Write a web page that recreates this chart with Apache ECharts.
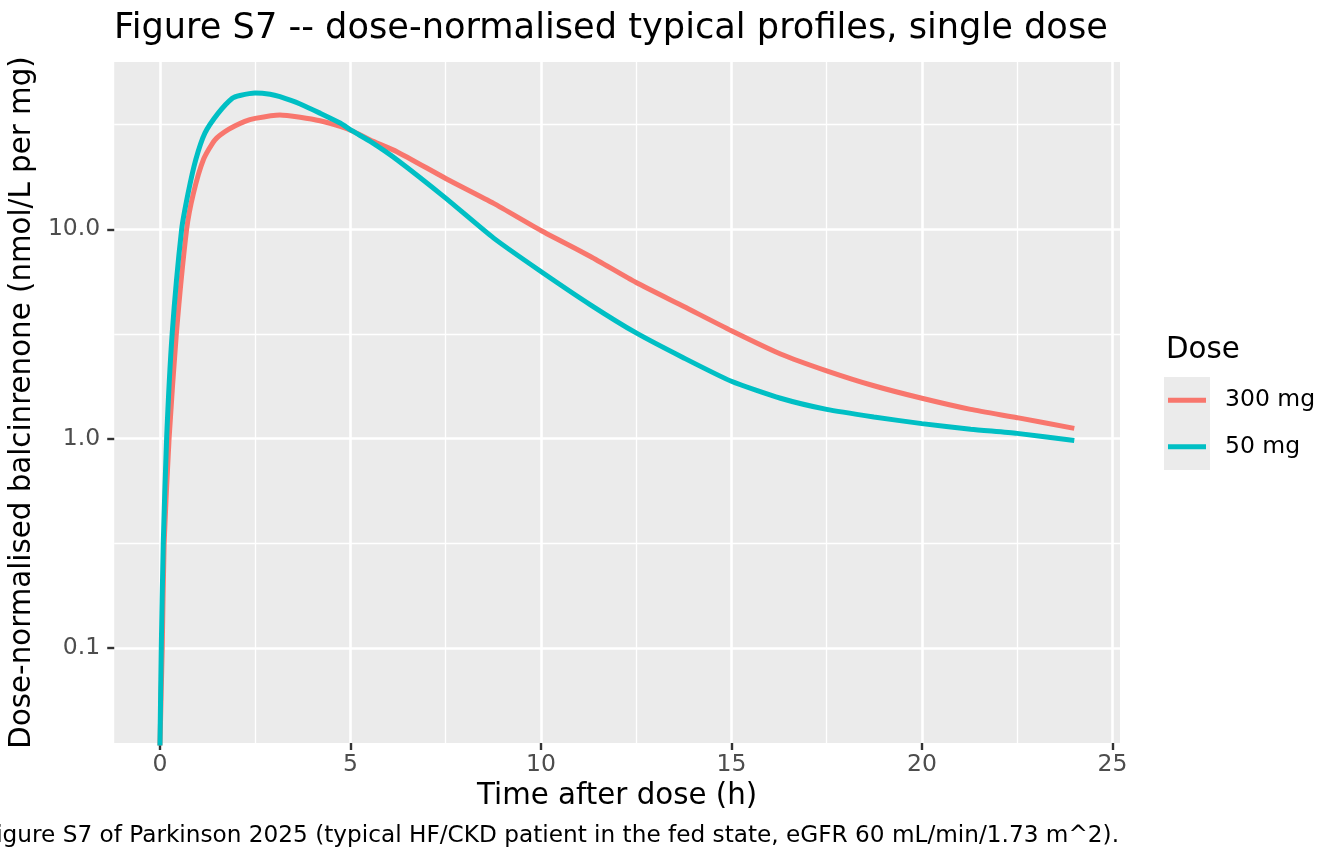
<!DOCTYPE html>
<html>
<head>
<meta charset="utf-8">
<script src="https://cdn.jsdelivr.net/npm/echarts@6/dist/echarts.min.js"></script>
<style>
  html, body { margin: 0; padding: 0; background: #fff; }
  #chart { width: 1344px; height: 864px; }
</style>
</head>
<body>
<div id="chart"></div>
<script>
// Values (time in h, conc in nmol/L per mg)
const time300 = [0, 0.06, 0.11, 0.24, 0.43, 0.70, 0.88, 1.14, 1.44, 1.8, 2.23, 2.5, 3.15, 3.68, 4.2, 4.73, 5.05, 5.52, 6.22, 7.5, 8.76, 10, 11.3, 12.5, 13.75, 15, 16.29, 17.5, 18.74, 20, 21.28, 22.5, 24];
const conc300 = [0.034, 0.1, 0.316, 1.0, 3.16, 10, 14.9, 21.5, 26.7, 30.0, 32.8, 33.9, 35.2, 34.3, 33.0, 31.0, 29.5, 26.7, 23.5, 17.5, 13.3, 9.87, 7.42, 5.57, 4.28, 3.28, 2.54, 2.11, 1.79, 1.56, 1.38, 1.26, 1.12];

const time50 = [0, 0.035, 0.087, 0.175, 0.32, 0.57, 0.74, 0.94, 1.18, 1.53, 1.9, 2.1, 2.5, 2.89, 3.15, 3.68, 4.2, 4.73, 5.05, 5.52, 6.22, 7.5, 8.76, 10, 11.3, 12.5, 13.75, 15, 16.29, 17.5, 18.74, 20, 21.28, 22.5, 24];
const conc50 = [0.034, 0.1, 0.316, 1.0, 3.16, 10, 14.9, 21.5, 28.8, 35.9, 42.3, 43.6, 44.8, 44.2, 43.0, 39.7, 35.9, 32.2, 29.5, 26.3, 21.5, 14.1, 9.08, 6.29, 4.36, 3.20, 2.43, 1.88, 1.56, 1.38, 1.27, 1.18, 1.11, 1.06, 0.98];

const seriesNames = ['300 mg', '50 mg'];
const seriesColors = ['#F8766D', '#00BFC4'];

const xTicks = [0, 5, 10, 15, 20, 25];
const yTicks = [0.1, 1, 10];
const yMinorTicks = [0.316, 3.16, 31.6];

const FONT = 'DejaVu Sans';
const Y_MIN = 0.03518, Y_MAX = 63.0;
// hidden helper axis: shifted by half a decade so its decades land on the minor breaks
const SHIFT = Math.sqrt(10);

function pairs(xs, ys) {
    return xs.map((x, i) => [x, ys[i]]);
}

const chart = echarts.init(document.getElementById('chart'), null, { renderer: 'canvas' });

const option = {
    backgroundColor: '#ffffff',
    animation: false,
    title: {
        text: 'Figure S7 -- dose-normalised typical profiles, single dose',
        left: 114,
        top: 11,
        padding: 0,
        textStyle: { fontFamily: FONT, fontSize: 35.2, fontWeight: 'normal', color: '#000' }
    },
    grid: {
        left: 114, right: 224, top: 62, bottom: 121,
        show: true, backgroundColor: '#EBEBEB', borderWidth: 0
    },
    legend: {
        orient: 'vertical',
        left: 1168,
        top: 377,
        padding: 0,
        itemGap: 0,
        itemWidth: 38,
        itemHeight: 5,
        icon: 'rect',
        z: 5,
        data: seriesNames,
        textStyle: {
            fontFamily: FONT, fontSize: 23.5, color: '#000',
            lineHeight: 46.5, padding: [0, 0, 0, 14]
        }
    },
    xAxis: {
        type: 'value',
        min: -1.2,
        max: 25.2,
        name: 'Time after dose (h)',
        nameLocation: 'middle',
        nameGap: 39,
        nameTextStyle: { fontFamily: FONT, fontSize: 29.3, color: '#000' },
        axisLine: { show: false, onZero: false },
        axisTick: { show: true, length: 7, customValues: xTicks, lineStyle: { color: '#333333', width: 2.4 } },
        axisLabel: { customValues: xTicks, margin: 10, fontFamily: FONT, fontSize: 23.5, color: '#4D4D4D' },
        splitLine: { show: true, lineStyle: { color: '#ffffff', width: 2.6 } },
        minorTick: { show: false, splitNumber: 2 },
        minorSplitLine: { show: true, lineStyle: { color: '#ffffff', width: 1.3 } }
    },
    yAxis: [{
        type: 'log',
        logBase: 10,
        min: Y_MIN,
        max: Y_MAX,
        name: 'Dose-normalised balcinrenone (nmol/L per mg)',
        nameLocation: 'middle',
        nameGap: 71,
        nameTextStyle: { fontFamily: FONT, fontSize: 29.3, color: '#000' },
        axisLine: { show: false, onZero: false },
        axisTick: { show: true, length: 7, customValues: yTicks, lineStyle: { color: '#333333', width: 2.4 } },
        axisLabel: {
            customValues: yTicks, margin: 14, fontFamily: FONT, fontSize: 23.5, color: '#4D4D4D',
            formatter: v => Number(v).toFixed(1)
        },
        splitLine: { show: true, lineStyle: { color: '#ffffff', width: 2.6 } }
    }, {
        type: 'log',
        logBase: 10,
        position: 'left',
        min: Y_MIN * SHIFT,
        max: Y_MAX * SHIFT,
        axisLine: { show: false, onZero: false },
        axisTick: { show: false, customValues: yMinorTicks.map(v => v * SHIFT) },
        axisLabel: { show: false },
        splitLine: { show: true, lineStyle: { color: '#ffffff', width: 1.3 } }
    }],
    series: [{
        name: seriesNames[0],
        type: 'line',
        data: pairs(time300, conc300),
        showSymbol: false,
        smooth: 0.2,
        clip: true,
        color: seriesColors[0],
        lineStyle: { color: seriesColors[0], width: 5 }
    }, {
        name: seriesNames[1],
        type: 'line',
        data: pairs(time50, conc50),
        showSymbol: false,
        smooth: 0.2,
        clip: true,
        color: seriesColors[1],
        lineStyle: { color: seriesColors[1], width: 5 }
    }],
    graphic: [{
        type: 'rect',
        z: 0,
        shape: { x: 1164, y: 377, width: 46, height: 93 },
        style: { fill: '#EBEBEB' }
    }, {
        type: 'text',
        x: 1166,
        y: 350,
        style: {
            text: 'Dose', fontFamily: FONT, fontSize: 29.3, fill: '#000',
            textAlign: 'left', textVerticalAlign: 'middle'
        }
    }, {
        type: 'text',
        x: 1119,
        y: 836,
        style: {
            text: 'Figure S7 of Parkinson 2025 (typical HF/CKD patient in the fed state, eGFR 60 mL/min/1.73 m^2).',
            fontFamily: FONT, fontSize: 23.2, fill: '#000',
            textAlign: 'right', textVerticalAlign: 'middle'
        }
    }]
};

chart.setOption(option);
window.addEventListener('resize', () => chart.resize());
</script>
</body>
</html>
